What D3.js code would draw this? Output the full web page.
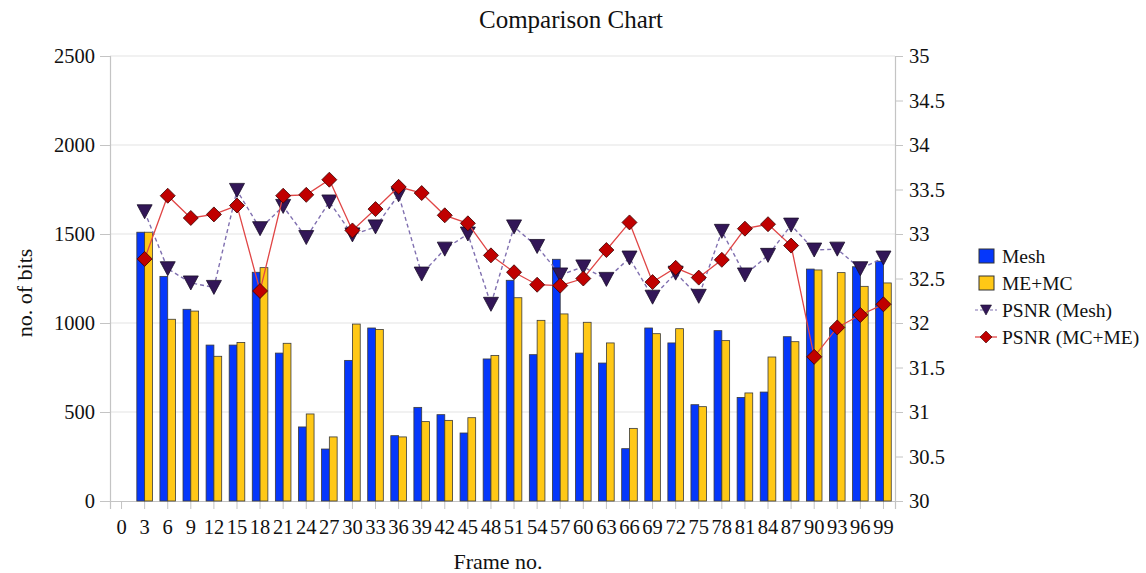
<!DOCTYPE html>
<html>
<head>
<meta charset="utf-8">
<script src="https://cdn.jsdelivr.net/npm/d3@7"></script>
<style>
  html, body { margin: 0; padding: 0; background: #fff; }
  svg { display: block; font-family: "Liberation Serif", "Times New Roman", serif; }
</style>
</head>
<body>
<svg id="chart" width="1146" height="573"></svg>
<script>
// Frame numbers on the category axis
const frames = [0, 3, 6, 9, 12, 15, 18, 21, 24, 27, 30, 33, 36, 39, 42, 45, 48, 51, 54, 57,
                60, 63, 66, 69, 72, 75, 78, 81, 84, 87, 90, 93, 96, 99];

// Bits per frame (left axis); frame 0 has no value
const meshBits = [null, 1510, 1262, 1077, 876, 876, 1285, 831, 416, 292, 790, 972, 367, 526, 485, 382,
                  798, 1240, 822, 1358, 831, 775, 294, 972, 888, 541, 957, 582, 612, 923, 1303, 970, 1316, 1347];
const meMcBits = [null, 1510, 1021, 1067, 813, 891, 1311, 886, 489, 360, 994, 964, 360, 446, 453, 468,
                  818, 1142, 1015, 1051, 1004, 888, 408, 940, 968, 530, 901, 607, 809, 895, 1298, 1283, 1206, 1225];

// PSNR in dB (right axis)
const psnrMesh = [null, 33.25, 32.61, 32.45, 32.40, 33.49, 33.06, 33.31, 32.96, 33.36, 32.99, 33.08, 33.44,
                  32.55, 32.83, 33.00, 32.21, 33.08, 32.86, 32.54, 32.63, 32.49, 32.73, 32.29, 32.56, 32.30,
                  33.03, 32.54, 32.76, 33.10, 32.82, 32.83, 32.61, 32.73];
const psnrMcMe = [null, 32.72, 33.43, 33.18, 33.22, 33.32, 32.36, 33.43, 33.44, 33.61, 33.04, 33.28, 33.53,
                  33.46, 33.21, 33.12, 32.76, 32.57, 32.43, 32.42, 32.50, 32.82, 33.13, 32.46, 32.62, 32.51,
                  32.71, 33.06, 33.11, 32.87, 31.62, 31.95, 32.09, 32.21];

const leftTicks = [0, 500, 1000, 1500, 2000, 2500];
const rightTicks = [30, 30.5, 31, 31.5, 32, 32.5, 33, 33.5, 34, 34.5, 35];

const seriesNames = ["Mesh", "ME+MC", "PSNR (Mesh)", "PSNR (MC+ME)"];
const colors = { mesh: "#0537fb", meMc: "#ffc816", triFill: "#321657", triLine: "#8070b0", dia: "#c00000", diaLine: "#e04646" };

const svg = d3.select("#chart");
const plot = { left: 110, right: 895, top: 56, bottom: 501 };

const x = d3.scaleBand().domain(frames).range([plot.left, plot.right]).padding(0);
const yL = d3.scaleLinear().domain([0, 2500]).range([plot.bottom, plot.top]);
const yR = d3.scaleLinear().domain([30, 35]).range([plot.bottom, plot.top]);
const bw = x.bandwidth();
const xs = d3.scaleBand().domain(["mesh", "meMc"]).range([0, bw]).paddingOuter(0.48).paddingInner(0);
const cx = f => x(f) + bw / 2;

// Horizontal gridlines
svg.append("g").selectAll("line").data(leftTicks.slice(1)).join("line")
  .attr("x1", plot.left).attr("x2", plot.right)
  .attr("y1", d => yL(d)).attr("y2", d => yL(d))
  .attr("stroke", "#e3e3e3").attr("stroke-width", 1);

// Left axis
const gL = svg.append("g").attr("transform", `translate(${plot.left},0)`)
  .call(d3.axisLeft(yL).tickValues(leftTicks).tickSize(10).tickPadding(5).tickFormat(d3.format("d")));
// Right axis
const gR = svg.append("g").attr("transform", `translate(${plot.right},0)`)
  .call(d3.axisRight(yR).tickValues(rightTicks).tickSize(8).tickPadding(6).tickFormat(d => String(d)));
// Bottom axis
const gB = svg.append("g").attr("transform", `translate(0,${plot.bottom})`)
  .call(d3.axisBottom(x).tickSize(8).tickPadding(10).tickFormat(d => String(d)));

[gL, gR, gB].forEach(g => {
  g.select(".domain").attr("stroke", "#c4c4c4").attr("stroke-width", 1.2);
  g.selectAll(".tick line").attr("stroke", "#c4c4c4");
  g.selectAll("text").attr("fill", "#111").style("font-size", "20.5px")
    .style("font-family", "'Liberation Serif', serif");
});
gB.selectAll("text").attr("dy", "0.75em");

// Grouped bars
const barData = [];
frames.forEach((f, i) => {
  if (meshBits[i] != null) barData.push({ f, key: "mesh", v: meshBits[i] });
  if (meMcBits[i] != null) barData.push({ f, key: "meMc", v: meMcBits[i] });
});
svg.append("g").selectAll("rect").data(barData).join("rect")
  .attr("x", d => x(d.f) + xs(d.key))
  .attr("y", d => yL(d.v))
  .attr("width", xs.bandwidth())
  .attr("height", d => yL(0) - yL(d.v))
  .attr("fill", d => colors[d.key])
  .attr("stroke", "#3a3a3a").attr("stroke-width", 0.8);

// Marker shapes
const triPath = (w, h) => `M${-w / 2},${-h / 2}L${w / 2},${-h / 2}L0,${h / 2}Z`;
const diaPath = r => `M0,${-r}L${r},0L0,${r}L${-r},0Z`;

const pts = arr => frames.map((f, i) => ({ f, v: arr[i] })).filter(d => d.v != null);
const line = d3.line().x(d => cx(d.f)).y(d => yR(d.v));

// PSNR (Mesh)
svg.append("path").datum(pts(psnrMesh)).attr("d", line)
  .attr("fill", "none").attr("stroke", colors.triLine).attr("stroke-width", 1.4)
  .attr("stroke-dasharray", "4,3");
svg.append("g").selectAll("path").data(pts(psnrMesh)).join("path")
  .attr("transform", d => `translate(${cx(d.f)},${yR(d.v)})`)
  .attr("d", triPath(15, 14))
  .attr("fill", colors.triFill).attr("stroke", "#1a0f2a").attr("stroke-width", 0.8);

// PSNR (MC+ME)
svg.append("path").datum(pts(psnrMcMe)).attr("d", line)
  .attr("fill", "none").attr("stroke", colors.diaLine).attr("stroke-width", 1.3);
svg.append("g").selectAll("path").data(pts(psnrMcMe)).join("path")
  .attr("transform", d => `translate(${cx(d.f)},${yR(d.v)})`)
  .attr("d", diaPath(7.5))
  .attr("fill", colors.dia).attr("stroke", "#3a0000").attr("stroke-width", 0.8);

// Titles
svg.append("text").attr("x", 571).attr("y", 28).attr("text-anchor", "middle")
  .style("font-size", "25px").attr("fill", "#111").text("Comparison Chart");
svg.append("text").attr("x", 498).attr("y", 569).attr("text-anchor", "middle")
  .style("font-size", "22px").attr("fill", "#111").text("Frame no.");
svg.append("text").attr("transform", "translate(32,293) rotate(-90)").attr("text-anchor", "middle")
  .style("font-size", "22px").attr("fill", "#111").text("no. of bits");

// Legend
const lg = svg.append("g").attr("transform", "translate(979,0)");
const rowY = [256, 283, 310, 337];
lg.append("rect").attr("x", 0).attr("y", rowY[0] - 7).attr("width", 15).attr("height", 14)
  .attr("fill", colors.mesh).attr("stroke", "#333");
lg.append("rect").attr("x", 0).attr("y", rowY[1] - 7).attr("width", 15).attr("height", 14)
  .attr("fill", colors.meMc).attr("stroke", "#333");
lg.append("line").attr("x1", -4).attr("x2", 18).attr("y1", rowY[2]).attr("y2", rowY[2])
  .attr("stroke", colors.triLine).attr("stroke-width", 1.2).attr("stroke-dasharray", "3,2");
lg.append("path").attr("transform", `translate(7,${rowY[2]})`).attr("d", triPath(11, 10))
  .attr("fill", colors.triFill).attr("stroke", "#1a0f2a").attr("stroke-width", 0.6);
lg.append("line").attr("x1", -4).attr("x2", 18).attr("y1", rowY[3]).attr("y2", rowY[3])
  .attr("stroke", colors.diaLine).attr("stroke-width", 1.3);
lg.append("path").attr("transform", `translate(7,${rowY[3]})`).attr("d", diaPath(6))
  .attr("fill", colors.dia).attr("stroke", "#3a0000").attr("stroke-width", 0.6);
lg.selectAll("text.lbl").data(seriesNames).join("text").attr("class", "lbl")
  .attr("x", 23).attr("y", (d, i) => rowY[i] + 7)
  .style("font-size", "19.5px").attr("fill", "#111").text(d => d);
</script>
</body>
</html>
